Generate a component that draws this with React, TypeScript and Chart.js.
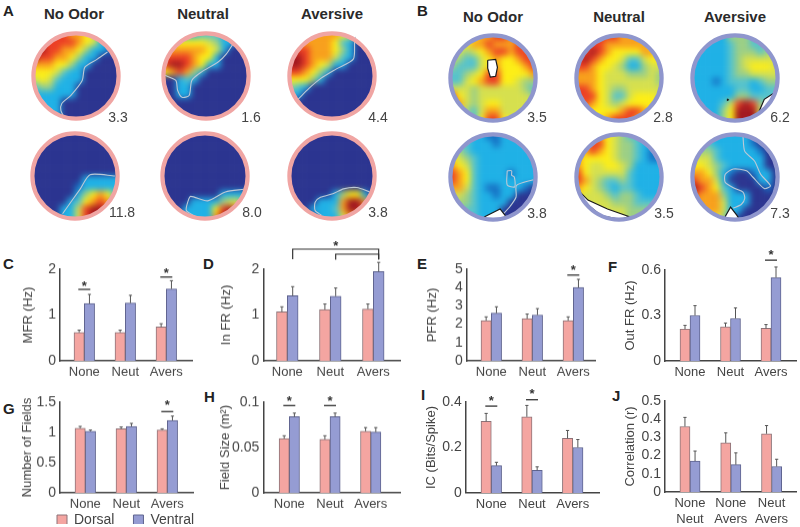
import React, { useEffect, useRef } from "react";
import { Chart, registerables } from "chart.js";

Chart.register(...registerables);
Chart.defaults.font.family = "'Liberation Sans', Arial, sans-serif";
Chart.defaults.color = "#444";

// ---------- bar data ----------
const categories = ["None", "Neut", "Avers"];
const pairCategories = [["None", "Neut"], ["None", "Avers"], ["Neut", "Avers"]];

const mfrDorsal = [0.62, 0.62, 0.74];
const mfrDorsalTop = [0.67, 0.67, 0.81];
const mfrVentral = [1.25, 1.26, 1.57];
const mfrVentralTop = [1.45, 1.43, 1.75];

const inDorsal = [1.07, 1.12, 1.13];
const inDorsalTop = [1.18, 1.24, 1.24];
const inVentral = [1.42, 1.41, 1.95];
const inVentralTop = [1.62, 1.59, 2.15];

const pfrDorsal = [2.2, 2.3, 2.2];
const pfrDorsalTop = [2.4, 2.55, 2.4];
const pfrVentral = [2.6, 2.5, 4.0];
const pfrVentralTop = [2.95, 2.85, 4.45];

const outDorsal = [0.21, 0.225, 0.215];
const outDorsalTop = [0.235, 0.25, 0.24];
const outVentral = [0.3, 0.28, 0.55];
const outVentralTop = [0.365, 0.35, 0.62];

const fieldsDorsal = [1.07, 1.06, 1.04];
const fieldsDorsalTop = [1.1, 1.09, 1.06];
const fieldsVentral = [1.02, 1.1, 1.2];
const fieldsVentralTop = [1.04, 1.15, 1.27];

const sizeDorsal = [0.06, 0.059, 0.068];
const sizeDorsalTop = [0.063, 0.063, 0.072];
const sizeVentral = [0.084, 0.084, 0.067];
const sizeVentralTop = [0.088, 0.088, 0.072];

const icDorsal = [0.315, 0.335, 0.24];
const icDorsalTop = [0.35, 0.385, 0.275];
const icVentral = [0.12, 0.1, 0.2];
const icVentralTop = [0.135, 0.115, 0.235];

const corrDorsal = [0.36, 0.27, 0.32];
const corrDorsalTop = [0.41, 0.325, 0.365];
const corrVentral = [0.17, 0.15, 0.14];
const corrVentralTop = [0.225, 0.215, 0.18];

// [category number, bar level, star level]
const sigC = [[1, 1.56, 1.67], [3, 1.83, 1.95]];
const sigE = [[3, 4.68, 5.05]];
const sigF = [[3, 0.665, 0.71]];
const sigG = [[3, 1.345, 1.47]];
const sigH = [[1, 0.0963, 0.103], [2, 0.0963, 0.103]];
const sigI = [[1, 0.382, 0.41], [2, 0.41, 0.44]];
// [from, to, top level, lower end level]
const bracketsD = [[1.125, 3.125, 2.44, 2.22], [2.125, 3.125, 2.33, 2.21]];
const bracketStarD = [2.125, 2.53];

// ---------- rate maps: digit = colour level per cell ----------
const levelColors = ["#2b3490", "#1670c4", "#1fb1e6", "#56c3cc", "#9ccf85", "#d6e04e", "#fdee16", "#f8a01c", "#ec3f24", "#a3191f"];

const mapA1 = ["888887765222", "888888765222", "898877642210", "988776422000", "777664220000", "666532200000", "565322200000", "344222000000", "222222000000", "222200000000", "222200000000", "222200000000"];
const mapA2 = ["222223332222", "256666542200", "677777652000", "888876620000", "899876220000", "678742000000", "002320000000", "002200000000", "002200000000", "000000000000", "000000000000", "000000000000"];
const mapA3 = ["777777765200", "777777632000", "888777642000", "998777532000", "998765220000", "887642000000", "666420000000", "432000000000", "220000000000", "000000000000", "000000000000", "000000000000"];
const mapA4 = ["000000000000", "000000000000", "000000000000", "000000000000", "000000000000", "000000000000", "000000022222", "000000122222", "000000246763", "000002367873", "000022589985", "000022589995"];
const mapA5 = ["000000000000", "000000000000", "000000000000", "000000000000", "000000000000", "000000000000", "000000000000", "000000000000", "000000002222", "000022224552", "000222268972", "000222279982"];
const mapA6 = ["000000000000", "000000000000", "000000000000", "000000000000", "000000000000", "000000000000", "000000000000", "000000000000", "000000246620", "000022279972", "000222379982", "000022257730"];
const mapB1 = ["666677887766", "566778777876", "554567887887", "543356766788", "433356766678", "334568866667", "335678866544", "555455555543", "865455555554", "875456655555", "664357755555", "554368865555"];
const mapB2 = ["888888777666", "788877777766", "889876666776", "898766533566", "887665422455", "777655544454", "777655555554", "887654455555", "888653356665", "787654566666", "666666788766", "666678887666"];
const mapB3 = ["222224443333", "222223443344", "222223444344", "222223455555", "222223456665", "222223445555", "222123332344", "222222332233", "222222443333", "222235898433", "222246999533", "222246999533"];
const mapB4 = ["333221122222", "433222122222", "543222222222", "654322222222", "765322222222", "876322221222", "876322222222", "775321122210", "554322122000", "444322220000", "443322200000", "333322200000"];
const mapB5 = ["567765433222", "578865443222", "678765443212", "766665443211", "765566542222", "865555532222", "875433432222", "765432332222", "655543443222", "455554443333", "555555544444", "555555544444"];
const mapB6 = ["332222221000", "333222221000", "344322222100", "555322222200", "665432222200", "776421001220", "877520000220", "987632000010", "877742220000", "777752220000", "577752200000", "456642000000"];

const lineA1 = [[85.5, 23], [74, 31], [60, 40], [57, 55], [44, 72], [34, 81], [33, 89], [37, 97]];
const lineA2 = [[81, 13], [73, 25], [64, 34], [44, 46], [34, 55], [31, 72], [23, 74], [18, 66], [16, 55], [3, 49]];
const lineA3 = [[76.5, 6], [75.5, 12], [74, 31], [55, 42], [37, 53], [24, 64], [12, 76]];
const lineA4 = [[95, 50], [67, 48.5], [56, 64.5], [36, 92.5]];
const lineA5 = [[94, 65], [73, 68], [53, 78], [34, 73], [31, 78], [29, 89], [40, 96]];
const lineA6 = [[92.5, 68], [78, 63], [63, 64.5], [51, 70], [37, 74], [31, 79.5], [31, 89], [38, 94]];
const lineB4a = [[95.6, 53], [76.5, 59.5], [76, 72.5], [69, 83.5], [62, 91]];
const lineB4b = [[66, 43], [71, 43], [71, 48], [74, 50], [74.5, 61], [66, 59], [66, 43]];
const lineB6 = [[59, 4], [61, 21], [72, 32], [79, 47], [90, 60], [83, 63], [70, 50], [63, 43], [48, 41], [39, 47], [39, 56], [50, 63], [59, 67], [61, 74], [57, 81], [48, 85]];

const holeB1 = [[44, 30], [53, 29], [55, 38], [53, 48], [47, 49], [44, 39], [44, 30]];
const holeB3 = [[77, 88], [83, 74], [94, 67], [91, 75], [85, 82], [77, 88]];
const dotB3 = [[41.5, 73.5], [42.5, 74.5], [41.5, 75], [41.5, 73.5]];
const holeB4 = [[40, 95], [58, 86], [65, 95], [58, 97], [44, 97.6], [40, 95]];
const holeB5 = [[5, 66], [15, 76], [37, 86], [61, 94.5], [52, 98], [30, 93.6], [12, 79], [5, 66]];
const holeB6 = [[39, 94.5], [45, 84], [52, 93], [55, 97.7], [39, 96.7], [39, 94.5]];

const PINK = "#f4a5a1";
const BLUE = "#959cd3";
const RING_PINK = "#f0a5a3";
const RING_BLUE = "#8f96cd";

type Pt = number[];
const toXY = (p: Pt[]) => p.map(([x, y]) => ({ x, y }));

const CANVAS_SIZE = 126;
const maskPlugin = {
  id: "mapMask",
  afterDatasetDraw(chart: any, args: any) {
    if (args.index !== 0) return;
    const dpr = chart.currentDevicePixelRatio || 1;
    const c = chart.canvas as HTMLCanvasElement;
    const ctx = chart.ctx as CanvasRenderingContext2D;
    const off = document.createElement("canvas");
    off.width = c.width;
    off.height = c.height;
    off.getContext("2d")!.drawImage(c, 0, 0);
    ctx.save();
    ctx.setTransform(1, 0, 0, 1, 0, 0);
    ctx.clearRect(0, 0, c.width, c.height);
    ctx.filter = `blur(${3.3 * dpr}px)`;
    ctx.drawImage(off, 0, 0);
    ctx.filter = "none";
    ctx.globalCompositeOperation = "destination-in";
    ctx.beginPath();
    ctx.arc(chart.scales.x.getPixelForValue(50) * dpr, chart.scales.y.getPixelForValue(50) * dpr, 43 * dpr, 0, Math.PI * 2);
    ctx.fill();
    ctx.restore();
  },
};

function RateMap({ cx, cy, rows, ring, lines = [], holes = [] }: any) {
  const ref = useRef<HTMLCanvasElement>(null);
  useEffect(() => {
    const cells: any[] = [];
    const colors: string[] = [];
    for (let r = -3; r < 15; r++) {
      for (let k = -3; k < 15; k++) {
        const rr = Math.min(11, Math.max(0, r));
        const kk = Math.min(11, Math.max(0, k));
        cells.push({ x: ((k + 0.5) * 100) / 12, y: ((r + 0.5) * 100) / 12 });
        colors.push(levelColors[+rows[rr][kk]]);
      }
    }
    const datasets: any[] = [
      { data: cells, order: 20, pointStyle: "rect", pointRadius: 5.6, pointBorderWidth: 0, pointBackgroundColor: colors, showLine: false, clip: false },
      { data: [{ x: 50, y: 50 }], order: 0, pointRadius: 42.6, pointBorderWidth: 4.2, pointBackgroundColor: "transparent", pointBorderColor: ring, showLine: false, clip: false },
    ];
    lines.forEach((l: Pt[]) => datasets.push({ data: toXY(l), order: 5, showLine: true, pointRadius: 0, borderColor: "#bcc8d6", borderWidth: 1.1, tension: 0.25, fill: false }));
    holes.forEach((h: Pt[]) => datasets.push({ data: toXY(h), order: 3, showLine: true, pointRadius: 0, borderColor: "#1a1a1a", borderWidth: 1.2, backgroundColor: "#fff", tension: 0, fill: "shape" }));
    const chart = new Chart(ref.current!, {
      type: "scatter",
      data: { datasets },
      options: {
        animation: false,
        responsive: false,
        events: [],
        layout: { padding: 0, autoPadding: false },
        plugins: { legend: { display: false }, tooltip: { enabled: false } },
        scales: {
          x: { type: "linear", min: -21, max: 121, display: false },
          y: { type: "linear", min: -21, max: 121, reverse: true, display: false },
        },
      },
      plugins: [maskPlugin],
    } as any);
    return () => chart.destroy();
  }, []);
  return (
    <canvas
      ref={ref}
      width={CANVAS_SIZE}
      height={CANVAS_SIZE}
      style={{ position: "absolute", left: cx - CANVAS_SIZE / 2, top: cy - CANVAS_SIZE / 2, width: CANVAS_SIZE, height: CANVAS_SIZE }}
    />
  );
}

const errorPlugin = {
  id: "marks",
  afterDatasetsDraw(chart: any, _a: any, opts: any) {
    const ctx = chart.ctx as CanvasRenderingContext2D;
    const xs = chart.scales.x;
    const ys = chart.scales.y;
    ctx.save();
    ctx.strokeStyle = "#555";
    ctx.lineWidth = 1;
    [opts.dorsalTop, opts.ventralTop].forEach((tops: number[], d: number) => {
      chart.getDatasetMeta(d).data.forEach((bar: any, i: number) => {
        const y = ys.getPixelForValue(tops[i]);
        ctx.beginPath();
        ctx.moveTo(bar.x, bar.y);
        ctx.lineTo(bar.x, y);
        ctx.moveTo(bar.x - 1.6, y);
        ctx.lineTo(bar.x + 1.6, y);
        ctx.stroke();
      });
    });
    ctx.strokeStyle = "#333";
    ctx.fillStyle = "#333";
    ctx.font = "bold 13px 'Liberation Sans'";
    ctx.textAlign = "center";
    ctx.textBaseline = "middle";
    (opts.sig || []).forEach(([cat, level, star]: number[]) => {
      const x = xs.getPixelForValue(cat);
      const y = ys.getPixelForValue(level);
      ctx.lineWidth = 1.3;
      ctx.beginPath();
      ctx.moveTo(x - 6, y);
      ctx.lineTo(x + 6, y);
      ctx.stroke();
      ctx.fillText("*", x, ys.getPixelForValue(star) + 2);
    });
    (opts.brackets || []).forEach(([a, b, top, low]: number[]) => {
      const x0 = xs.getPixelForValue(a);
      const x1 = xs.getPixelForValue(b);
      const y0 = ys.getPixelForValue(top);
      const y1 = ys.getPixelForValue(low);
      ctx.lineWidth = 1.2;
      ctx.beginPath();
      ctx.moveTo(x0, y1);
      ctx.lineTo(x0, y0);
      ctx.lineTo(x1, y0);
      ctx.lineTo(x1, y1);
      ctx.stroke();
    });
    if (opts.bracketStar) {
      ctx.fillText("*", xs.getPixelForValue(opts.bracketStar[0]), ys.getPixelForValue(opts.bracketStar[1]) + 2);
    }
    ctx.restore();
  },
};

function BarPanel({ titleX, axisX, axisEnd, top, base, yMax, step, first, spacing, barW, yTitle, dorsal, dorsalTop, ventral, ventralTop, sig, brackets, bracketStar, labels = categories, extraBottom = 26 }: any) {
  const ref = useRef<HTMLCanvasElement>(null);
  const left = titleX - 8;
  const canvasTop = top - 34;
  const width = axisEnd + 4 - left;
  const height = base + extraBottom + 10 - canvasTop;
  useEffect(() => {
    const xMin = 1 - (first - axisX) / spacing;
    const xMax = 3 + (axisEnd - (first + 2 * spacing)) / spacing;
    const pts = (vals: number[]) => vals.map((y, i) => ({ x: i + 1, y }));
    const chart = new Chart(ref.current!, {
      type: "bar",
      data: {
        datasets: [
          { label: "Dorsal", data: pts(dorsal), backgroundColor: PINK, borderColor: "#8d7378", borderWidth: 1, barThickness: barW },
          { label: "Ventral", data: pts(ventral), backgroundColor: BLUE, borderColor: "#5f648f", borderWidth: 1, barThickness: barW },
        ],
      },
      options: {
        animation: false,
        responsive: false,
        events: [],
        layout: { padding: { top: top - canvasTop, right: 4, left: 0, bottom: 0 } },
        plugins: {
          legend: { display: false },
          tooltip: { enabled: false },
          marks: { dorsalTop, ventralTop, sig, brackets, bracketStar },
        },
        scales: {
          x: {
            type: "linear",
            offset: false,
            min: xMin,
            max: xMax,
            grid: { display: false, drawTicks: false },
            border: { display: true, color: "#444", width: 1.5 },
            ticks: {
              stepSize: 1,
              includeBounds: false,
              autoSkip: false,
              maxRotation: 0,
              padding: 4,
              font: { size: 13 },
              color: "#444",
              callback: (v: number) => (Number.isInteger(v) ? labels[v - 1] : ""),
            },
            afterFit: (s: any) => {
              s.height = height - (base - canvasTop);
            },
          },
          y: {
            min: 0,
            max: yMax,
            grid: { display: false, drawTicks: false },
            border: { display: true, color: "#444", width: 1.5 },
            ticks: {
              stepSize: step,
              autoSkip: false,
              padding: 4,
              font: { size: 14 },
              color: "#444",
              callback: (v: number) => String(+(+v).toFixed(3)),
            },
            title: { display: true, text: yTitle, font: { size: 13 }, color: "#444", padding: 0 },
            afterFit: (s: any) => {
              s.width = axisX - left;
            },
          },
        },
      },
      plugins: [errorPlugin],
    } as any);
    return () => chart.destroy();
  }, []);
  return (
    <canvas ref={ref} width={width} height={height} style={{ position: "absolute", left, top: canvasTop, width, height }} />
  );
}

function LegendChart() {
  const ref = useRef<HTMLCanvasElement>(null);
  useEffect(() => {
    const chart = new Chart(ref.current!, {
      type: "bar",
      data: {
        labels: [],
        datasets: [
          { label: "Dorsal", data: [], backgroundColor: PINK, borderColor: "#8d7378", borderWidth: 1 },
          { label: "Ventral", data: [], backgroundColor: BLUE, borderColor: "#5f648f", borderWidth: 1 },
        ],
      },
      options: {
        animation: false,
        responsive: false,
        events: [],
        plugins: {
          tooltip: { enabled: false },
          legend: {
            display: true,
            position: "top",
            align: "start",
            labels: { boxWidth: 10, boxHeight: 10, padding: 19, font: { size: 14 }, color: "#444" },
          },
        },
        scales: { x: { display: false }, y: { display: false } },
      },
    } as any);
    return () => chart.destroy();
  }, []);
  return <canvas ref={ref} width={240} height={60} style={{ position: "absolute", left: 38, top: 494, width: 240, height: 60 }} />;
}

const Txt = ({ x, y, size = 14, bold = false, color = "#444", anchor = "center", children }: any) => (
  <div
    style={{
      position: "absolute",
      left: x,
      top: y,
      transform: anchor === "center" ? "translate(-50%,-50%)" : "translate(0,-50%)",
      fontFamily: "'Liberation Sans', Arial, sans-serif",
      fontSize: size,
      fontWeight: bold ? 700 : 400,
      color,
      whiteSpace: "nowrap",
      lineHeight: 1,
    }}
  >
    {children}
  </div>
);

export default function App() {
  useEffect(() => {
    document.body.style.margin = "0";
  }, []);
  return (
    <div style={{ position: "fixed", left: 0, top: 0, width: 800, height: 527, overflow: "hidden", background: "#fff", filter: "blur(0.45px)" }}>
      {/* titles */}
      <Txt x={74} y={13} size={15} bold color="#2a2a2a">No Odor</Txt>
      <Txt x={203} y={13} size={15} bold color="#2a2a2a">Neutral</Txt>
      <Txt x={332} y={13} size={15} bold color="#2a2a2a">Aversive</Txt>
      <Txt x={493} y={16} size={15} bold color="#2a2a2a">No Odor</Txt>
      <Txt x={619} y={16} size={15} bold color="#2a2a2a">Neutral</Txt>
      <Txt x={735} y={16} size={15} bold color="#2a2a2a">Aversive</Txt>
      {/* panel letters */}
      {[
        ["A", 3, 10], ["B", 417, 10], ["C", 3, 263], ["D", 203, 263], ["E", 417, 263], ["F", 608, 266],
        ["G", 3, 408], ["H", 204, 396], ["I", 421, 394], ["J", 612, 395],
      ].map(([l, x, y]: any) => (
        <Txt key={l} x={x} y={y} size={15} bold anchor="start" color="#222">{l}</Txt>
      ))}
      {/* rate maps */}
      <RateMap cx={75.5} cy={75.5} rows={mapA1} ring={RING_PINK} lines={[lineA1]} />
      <RateMap cx={205.5} cy={75.5} rows={mapA2} ring={RING_PINK} lines={[lineA2]} />
      <RateMap cx={332} cy={75.5} rows={mapA3} ring={RING_PINK} lines={[lineA3]} />
      <RateMap cx={74.5} cy={175.5} rows={mapA4} ring={RING_PINK} lines={[lineA4]} />
      <RateMap cx={205} cy={175.5} rows={mapA5} ring={RING_PINK} lines={[lineA5]} />
      <RateMap cx={332} cy={175.5} rows={mapA6} ring={RING_PINK} lines={[lineA6]} />
      <RateMap cx={492.5} cy={78} rows={mapB1} ring={RING_BLUE} holes={[holeB1]} />
      <RateMap cx={618.5} cy={78} rows={mapB2} ring={RING_BLUE} />
      <RateMap cx={735} cy={78} rows={mapB3} ring={RING_BLUE} holes={[holeB3, dotB3]} />
      <RateMap cx={492.5} cy={176.5} rows={mapB4} ring={RING_BLUE} lines={[lineB4a, lineB4b]} holes={[holeB4]} />
      <RateMap cx={618.5} cy={176.5} rows={mapB5} ring={RING_BLUE} holes={[holeB5]} />
      <RateMap cx={735} cy={176.5} rows={mapB6} ring={RING_BLUE} lines={[lineB6]} holes={[holeB6]} />
      {/* peak rates */}
      {[
        ["3.3", 118, 117], ["1.6", 251, 117], ["4.4", 378, 117], ["11.8", 122, 212], ["8.0", 252, 212], ["3.8", 378, 212],
        ["3.5", 537, 117], ["2.8", 663, 117], ["6.2", 780, 117], ["3.8", 537, 213], ["3.5", 664, 213], ["7.3", 780, 213],
      ].map(([t, x, y]: any, i: number) => (
        <Txt key={i} x={x} y={y} size={14}>{t}</Txt>
      ))}
      {/* bars */}
      <BarPanel titleX={29} axisX={60} axisEnd={192} top={269} base={360.7} yMax={2} step={1} first={84.3} spacing={41} barW={10.3} yTitle="MFR (Hz)" dorsal={mfrDorsal} dorsalTop={mfrDorsalTop} ventral={mfrVentral} ventralTop={mfrVentralTop} sig={sigC} />
      <BarPanel titleX={227} axisX={263.3} axisEnd={400} top={269} base={360.7} yMax={2} step={1} first={287.3} spacing={43} barW={10.8} yTitle="In FR (Hz)" dorsal={inDorsal} dorsalTop={inDorsalTop} ventral={inVentral} ventralTop={inVentralTop} brackets={bracketsD} bracketStar={bracketStarD} />
      <BarPanel titleX={433} axisX={466.7} axisEnd={595} top={269.3} base={360.7} yMax={5} step={1} first={491.3} spacing={41} barW={10.3} yTitle="PFR (Hz)" dorsal={pfrDorsal} dorsalTop={pfrDorsalTop} ventral={pfrVentral} ventralTop={pfrVentralTop} sig={sigE} />
      <BarPanel titleX={631} axisX={665} axisEnd={796} top={270} base={361} yMax={0.6} step={0.3} first={690} spacing={40.5} barW={10} yTitle="Out FR (Hz)" dorsal={outDorsal} dorsalTop={outDorsalTop} ventral={outVentral} ventralTop={outVentralTop} sig={sigF} />
      <BarPanel titleX={28} axisX={60} axisEnd={193} top={402.3} base={493.3} yMax={1.5} step={0.5} first={85.3} spacing={41} barW={10.3} yTitle="Number of Fields" dorsal={fieldsDorsal} dorsalTop={fieldsDorsalTop} ventral={fieldsVentral} ventralTop={fieldsVentralTop} sig={sigG} />
      <BarPanel titleX={226} axisX={263.3} axisEnd={400} top={402.3} base={493.3} yMax={0.1} step={0.05} first={289.3} spacing={40.7} barW={10.2} yTitle="Field Size (m²)" dorsal={sizeDorsal} dorsalTop={sizeDorsalTop} ventral={sizeVentral} ventralTop={sizeVentralTop} sig={sigH} />
      <BarPanel titleX={432} axisX={465.7} axisEnd={599} top={401.7} base={492.7} yMax={0.4} step={0.2} first={491.3} spacing={40.7} barW={10.3} yTitle="IC (Bits/Spike)" dorsal={icDorsal} dorsalTop={icDorsalTop} ventral={icVentral} ventralTop={icVentralTop} sig={sigI} />
      <BarPanel titleX={631} axisX={665} axisEnd={796} top={400.7} base={492} yMax={0.5} step={0.1} first={690} spacing={40.8} barW={10.1} yTitle="Correlation (r)" dorsal={corrDorsal} dorsalTop={corrDorsalTop} ventral={corrVentral} ventralTop={corrVentralTop} labels={pairCategories} extraBottom={36} />
      <LegendChart />
    </div>
  );
}
